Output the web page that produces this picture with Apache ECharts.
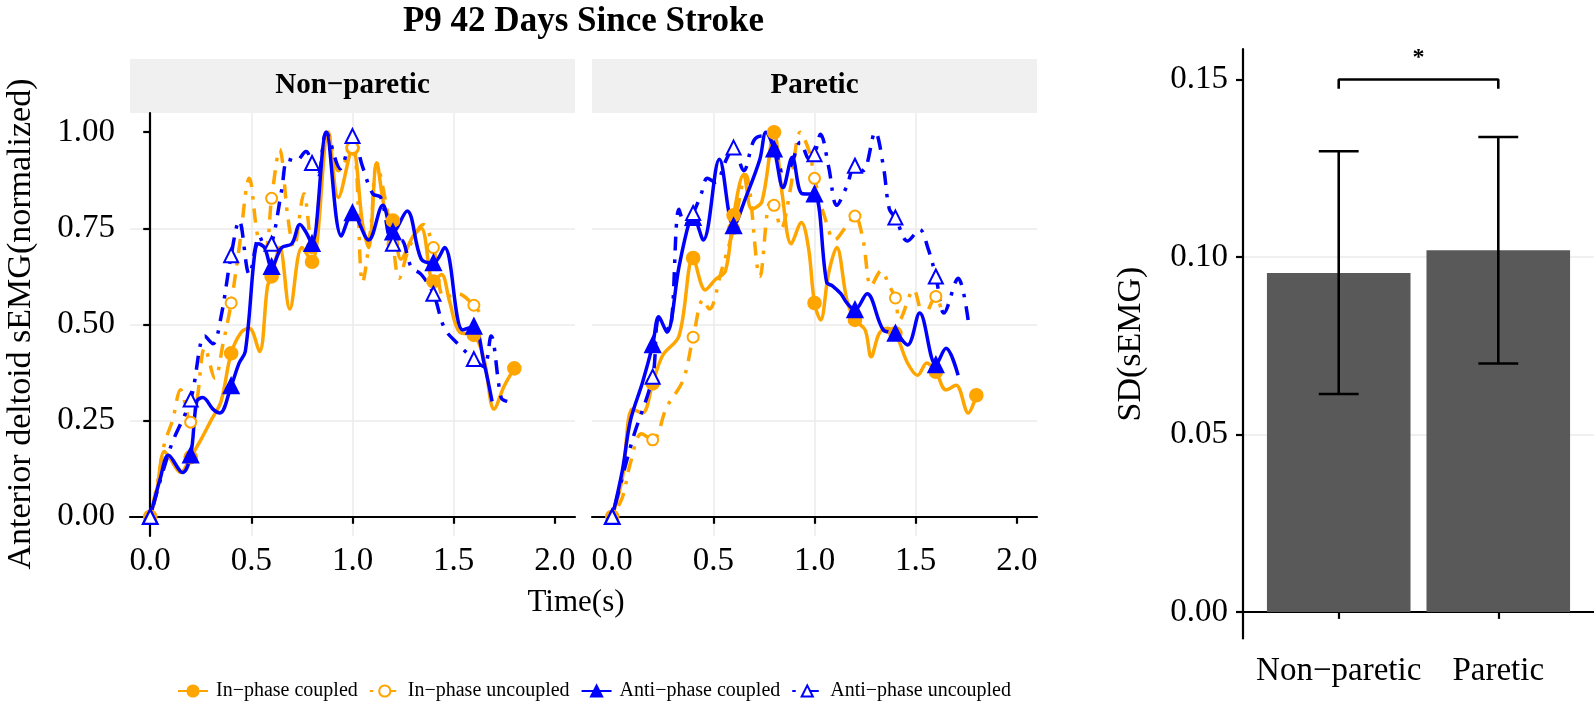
<!DOCTYPE html>
<html><head><meta charset="utf-8">
<script src="https://cdn.jsdelivr.net/npm/echarts@6/dist/echarts.min.js"></script>
<style>html,body{margin:0;padding:0;background:#fff}#c{width:1594px;height:720px}</style>
</head><body><div id="c"></div>
<script>
// ---------- data ----------
const chartTitle = 'P9 42 Days Since Stroke';
const seriesNames = ['In−phase coupled', 'In−phase uncoupled', 'Anti−phase coupled', 'Anti−phase uncoupled'];
const panelNames = ['Non−paretic', 'Paretic'];
const xTicks = [0, 0.5, 1, 1.5, 2];
const yTicks = [0, 0.25, 0.5, 0.75, 1];

// Non-paretic panel: [time (s), normalized sEMG]
const npInCoupled = [[0,0],[0.03,0.06],[0.07,0.17],[0.1,0.15],[0.15,0.115],[0.2,0.155],[0.25,0.2],[0.3,0.25],[0.35,0.3],[0.4,0.425],[0.45,0.48],[0.49,0.49],[0.54,0.43],[0.58,0.6],[0.6,0.625],[0.64,0.70],[0.69,0.54],[0.75,0.70],[0.8,0.663],[0.88,1.0],[0.93,0.83],[1.0,0.958],[1.05,0.76],[1.08,0.70],[1.12,0.92],[1.16,0.80],[1.2,0.77],[1.24,0.67],[1.3,0.73],[1.34,0.75],[1.4,0.612],[1.44,0.63],[1.48,0.56],[1.53,0.48],[1.6,0.473],[1.65,0.41],[1.7,0.28],[1.75,0.34],[1.8,0.386]];
const npInUncoupled = [[0,0],[0.04,0.1],[0.07,0.19],[0.11,0.25],[0.15,0.33],[0.2,0.246],[0.23,0.3],[0.27,0.44],[0.32,0.36],[0.36,0.45],[0.4,0.556],[0.44,0.70],[0.49,0.88],[0.535,0.72],[0.57,0.70],[0.6,0.828],[0.64,0.955],[0.68,0.78],[0.71,0.70],[0.76,0.84],[0.8,0.70],[0.84,0.85],[0.88,1.0],[0.93,0.90],[1.0,0.96],[1.05,0.61],[1.09,0.75],[1.12,0.92],[1.16,0.83],[1.2,0.71],[1.23,0.62],[1.28,0.70],[1.35,0.76],[1.4,0.70],[1.455,0.57],[1.52,0.58],[1.6,0.55],[1.63,0.53]];
const npAntiCoupled = [[0,0],[0.05,0.1],[0.09,0.16],[0.16,0.115],[0.2,0.16],[0.23,0.30],[0.26,0.31],[0.31,0.28],[0.345,0.27],[0.4,0.34],[0.44,0.40],[0.47,0.43],[0.535,0.71],[0.565,0.70],[0.6,0.65],[0.65,0.70],[0.7,0.71],[0.74,0.76],[0.77,0.74],[0.8,0.71],[0.87,1.0],[0.945,0.73],[1.0,0.79],[1.08,0.72],[1.15,0.81],[1.2,0.74],[1.27,0.795],[1.34,0.67],[1.4,0.66],[1.455,0.70],[1.545,0.486],[1.6,0.495],[1.65,0.40],[1.69,0.30]];
const npAntiUncoupled = [[0,0],[0.1,0.18],[0.2,0.305],[0.27,0.47],[0.31,0.45],[0.35,0.52],[0.4,0.68],[0.44,0.77],[0.49,0.63],[0.54,0.73],[0.57,0.70],[0.6,0.71],[0.65,0.85],[0.68,0.93],[0.72,0.925],[0.77,0.95],[0.8,0.92],[0.83,0.89],[0.87,1.0],[0.94,0.905],[1.0,0.99],[1.05,0.91],[1.1,0.84],[1.14,0.83],[1.2,0.71],[1.24,0.72],[1.29,0.65],[1.34,0.63],[1.4,0.58],[1.455,0.49],[1.52,0.45],[1.6,0.41],[1.65,0.39],[1.685,0.47],[1.735,0.31],[1.765,0.30]];

// Paretic panel
const pInCoupled = [[0,0],[0.05,0.1],[0.1,0.28],[0.15,0.27],[0.2,0.347],[0.25,0.42],[0.33,0.47],[0.4,0.673],[0.46,0.59],[0.51,0.617],[0.56,0.64],[0.6,0.784],[0.65,0.89],[0.69,0.80],[0.74,0.82],[0.8,1.0],[0.84,0.84],[0.885,0.71],[0.935,0.765],[0.97,0.70],[1.0,0.556],[1.03,0.512],[1.07,0.634],[1.11,0.70],[1.16,0.564],[1.2,0.512],[1.25,0.486],[1.28,0.416],[1.32,0.477],[1.36,0.49],[1.4,0.477],[1.46,0.40],[1.51,0.368],[1.555,0.40],[1.6,0.377],[1.65,0.33],[1.7,0.342],[1.76,0.27],[1.8,0.316]];
const pInUncoupled = [[0,0],[0.05,0.05],[0.09,0.14],[0.145,0.216],[0.2,0.20],[0.27,0.286],[0.35,0.355],[0.4,0.467],[0.45,0.565],[0.48,0.54],[0.54,0.64],[0.6,0.75],[0.66,0.89],[0.73,0.625],[0.78,0.817],[0.8,0.81],[0.835,0.75],[0.88,0.85],[0.93,1.0],[0.975,0.948],[1.0,0.88],[1.05,0.78],[1.1,0.72],[1.15,0.75],[1.2,0.782],[1.24,0.72],[1.28,0.60],[1.33,0.64],[1.37,0.60],[1.4,0.569],[1.42,0.512],[1.49,0.59],[1.54,0.52],[1.6,0.573],[1.63,0.53]];
const pAntiCoupled = [[0,0],[0.05,0.12],[0.09,0.25],[0.15,0.35],[0.2,0.447],[0.23,0.52],[0.27,0.48],[0.33,0.65],[0.38,0.765],[0.4,0.778],[0.45,0.72],[0.53,0.93],[0.6,0.756],[0.66,0.83],[0.73,0.93],[0.76,1.0],[0.8,0.956],[0.845,0.856],[0.89,0.935],[0.94,0.84],[1.0,0.839],[1.06,0.61],[1.09,0.60],[1.13,0.58],[1.16,0.556],[1.2,0.538],[1.26,0.58],[1.34,0.486],[1.4,0.477],[1.46,0.447],[1.52,0.53],[1.6,0.395],[1.65,0.438],[1.71,0.368]];
const pAntiUncoupled = [[0,0],[0.1,0.2],[0.2,0.364],[0.23,0.51],[0.28,0.486],[0.33,0.80],[0.36,0.76],[0.4,0.79],[0.44,0.84],[0.47,0.88],[0.51,0.87],[0.565,0.93],[0.6,0.96],[0.65,0.90],[0.70,0.978],[0.74,0.99],[0.79,0.99],[0.84,0.90],[0.88,0.91],[0.93,0.974],[0.975,0.93],[1.0,0.943],[1.03,0.995],[1.07,0.91],[1.11,0.81],[1.16,0.86],[1.2,0.913],[1.24,0.90],[1.30,1.0],[1.34,0.913],[1.37,0.80],[1.4,0.778],[1.46,0.717],[1.52,0.747],[1.56,0.70],[1.6,0.625],[1.64,0.53],[1.71,0.62],[1.76,0.51]];

// Bar chart: SD(sEMG)
const barCategories = ['Non−paretic', 'Paretic'];
const barMean = [0.0955, 0.1019];
const barLow = [0.0614, 0.0700];
const barHigh = [0.1298, 0.1338];
const barTicks = [0, 0.05, 0.10, 0.15];
const bracketY = 0.15;
const bracketEndY = 0.1474;
const starY = 0.1562;
const starLabel = '*';

// ---------- styling ----------
const FONT = '"Liberation Serif", "Times New Roman", serif';
const GRID_C = '#EBEBEB';
const DOTDASH = [3.5, 9, 14, 9];
const styles = [
  {color: '#FFA500', type: 'solid', symbol: 'circle', size: 12},
  {color: '#FFA500', type: DOTDASH, symbol: 'emptyCircle', size: 11},
  {color: '#0000FF', type: 'solid', symbol: 'triangle', size: 14},
  {color: '#0000FF', type: DOTDASH, symbol: 'emptyTriangle', size: 14}
];
const panelData = [
  [npInCoupled, npInUncoupled, npAntiCoupled, npAntiUncoupled],
  [pInCoupled, pInUncoupled, pAntiCoupled, pAntiUncoupled]
];
const isMarker = t => Math.abs(t * 5 - Math.round(t * 5)) < 1e-6;

const axisLineStyle = {color: '#000', width: 2.2};
const labelStyle = {fontFamily: FONT, fontSize: 33, color: '#000'};

function lineXAxis(i) {
  return {
    type: 'value', gridIndex: i, min: -0.1, max: 2.1,
    axisLine: {show: true, lineStyle: axisLineStyle},
    axisTick: {show: true, length: 7, lineStyle: axisLineStyle, customValues: xTicks},
    axisLabel: Object.assign({customValues: xTicks, margin: 9, formatter: v => v.toFixed(1)}, labelStyle),
    splitLine: {show: true, showMinLine: false, showMaxLine: false, lineStyle: {color: GRID_C, width: 1.5}}
  };
}
function lineYAxis(i) {
  const first = i === 0;
  return {
    type: 'value', gridIndex: i, min: -0.05, max: 1.05,
    axisLine: {show: first, lineStyle: axisLineStyle},
    axisTick: {show: first, length: 7, lineStyle: axisLineStyle, customValues: yTicks},
    axisLabel: Object.assign({show: first, customValues: yTicks, margin: 15, formatter: v => v.toFixed(2)}, labelStyle),
    splitLine: {show: true, showMinLine: false, showMaxLine: false, lineStyle: {color: GRID_C, width: 1.5}}
  };
}

const series = [];
panelData.forEach((group, p) => {
  group.forEach((pts, k) => {
    const st = styles[k];
    series.push({
      type: 'line', name: seriesNames[k], xAxisIndex: p, yAxisIndex: p,
      smooth: 0.35, showSymbol: true, showAllSymbol: true,
      symbol: st.symbol, symbolSize: st.size,
      lineStyle: {color: st.color, width: 3.5, type: st.type},
      itemStyle: {color: st.color, borderColor: st.color, borderWidth: 2.6},
      emphasis: {disabled: true},
      data: pts.map(([t, y]) => isMarker(t) ? {value: [t, y]} : {value: [t, y], symbol: 'none'})
    });
  });
});

// bars
series.push({
  type: 'custom', xAxisIndex: 2, yAxisIndex: 2, silent: true,
  data: barCategories.map((c, i) => [i + 1, barMean[i]]),
  renderItem: (params, api) => {
    const x = api.value(0), v = api.value(1);
    const a = api.coord([x - 0.45, v]), b = api.coord([x + 0.45, 0]);
    return {type: 'rect', shape: {x: a[0], y: a[1], width: b[0] - a[0], height: b[1] - a[1]}, style: {fill: '#595959'}};
  }
});
// error bars
series.push({
  type: 'custom', xAxisIndex: 2, yAxisIndex: 2, silent: true, z: 5,
  data: barCategories.map((c, i) => [i + 1, barLow[i], barHigh[i]]),
  renderItem: (params, api) => {
    const x = api.value(0), lo = api.value(1), hi = api.value(2);
    const pl = api.coord([x, lo]), ph = api.coord([x, hi]);
    const l1 = api.coord([x - 0.125, lo]), r1 = api.coord([x + 0.125, lo]);
    const l2 = api.coord([x - 0.125, hi]), r2 = api.coord([x + 0.125, hi]);
    const st = {stroke: '#000', lineWidth: 2.6};
    return {type: 'group', children: [
      {type: 'line', shape: {x1: pl[0], y1: pl[1], x2: ph[0], y2: ph[1]}, style: st},
      {type: 'line', shape: {x1: l1[0], y1: l1[1], x2: r1[0], y2: r1[1]}, style: st},
      {type: 'line', shape: {x1: l2[0], y1: l2[1], x2: r2[0], y2: r2[1]}, style: st}
    ]};
  }
});
// significance bracket
series.push({
  type: 'line', xAxisIndex: 2, yAxisIndex: 2, symbol: 'none', silent: true, z: 5,
  lineStyle: {color: '#000', width: 2.6},
  data: [[1, bracketEndY], [1, bracketY], [2, bracketY], [2, bracketEndY]]
});
series.push({
  type: 'custom', xAxisIndex: 2, yAxisIndex: 2, silent: true, z: 5,
  data: [[1.5, starY]],
  renderItem: (params, api) => {
    const p = api.coord([api.value(0), api.value(1)]);
    return {type: 'text', x: p[0], y: p[1], style: {text: starLabel, font: 'bold 24px ' + FONT, fill: '#000', align: 'center', verticalAlign: 'middle', textAlign: 'center', textVerticalAlign: 'middle'}};
  }
});

function txt(x, y, text, font, rot) {
  return {type: 'text', x: x, y: y, rotation: rot || 0, silent: true,
    style: {text: text, font: font, fill: '#000', align: 'center', verticalAlign: 'middle', textAlign: 'center', textVerticalAlign: 'middle'}};
}

const option = {
  animation: false,
  backgroundColor: '#fff',
  grid: [
    {left: 130, top: 113, width: 445, height: 423},
    {left: 592, top: 113, width: 445, height: 423},
    {left: 1243, top: 49, width: 351, height: 589.5}
  ],
  xAxis: [lineXAxis(0), lineXAxis(1), {
    type: 'value', gridIndex: 2, min: 0.4, max: 2.6,
    axisLine: {show: true, lineStyle: axisLineStyle},
    axisTick: {show: true, length: 7, lineStyle: axisLineStyle, customValues: [1, 2]},
    axisLabel: Object.assign({customValues: [1, 2], margin: 16, formatter: v => barCategories[Math.round(v) - 1]}, labelStyle),
    splitLine: {show: true, showMinLine: false, showMaxLine: false, lineStyle: {color: GRID_C, width: 1.5}}
  }],
  yAxis: [lineYAxis(0), lineYAxis(1), {
    type: 'value', gridIndex: 2, min: -0.0075, max: 0.1586,
    axisLine: {show: true, lineStyle: axisLineStyle},
    axisTick: {show: true, length: 7, lineStyle: axisLineStyle, customValues: barTicks},
    axisLabel: Object.assign({customValues: barTicks, margin: 15, formatter: v => v.toFixed(2)}, labelStyle),
    splitLine: {show: true, showMinLine: false, showMaxLine: false, lineStyle: {color: GRID_C, width: 1.5}}
  }],
  legend: {
    data: seriesNames, left: 172, top: 676, itemWidth: 30, itemHeight: 14, itemGap: 11,
    textStyle: {fontFamily: FONT, fontSize: 20, color: '#000', padding: [0, 0, 0, 3]},
    selectedMode: false
  },
  graphic: [
    {type: 'rect', shape: {x: 130, y: 59, width: 445, height: 54}, style: {fill: '#F0F0F0'}, silent: true, z: -1},
    {type: 'rect', shape: {x: 592, y: 59, width: 445, height: 54}, style: {fill: '#F0F0F0'}, silent: true, z: -1},
    txt(583.5, 22, chartTitle, 'bold 35px ' + FONT),
    txt(352.5, 86, panelNames[0], 'bold 29px ' + FONT),
    txt(814.5, 86, panelNames[1], 'bold 29px ' + FONT),
    txt(576, 603, 'Time(s)', '31px ' + FONT),
    txt(21, 324, 'Anterior deltoid sEMG(normalized)', '34px ' + FONT, Math.PI / 2),
    txt(1131.5, 344, 'SD(sEMG)', '34px ' + FONT, Math.PI / 2)
  ],
  series: series
};
const chart = echarts.init(document.getElementById('c'), null, {renderer: 'canvas'});
chart.setOption(option);
</script>
</body></html>
